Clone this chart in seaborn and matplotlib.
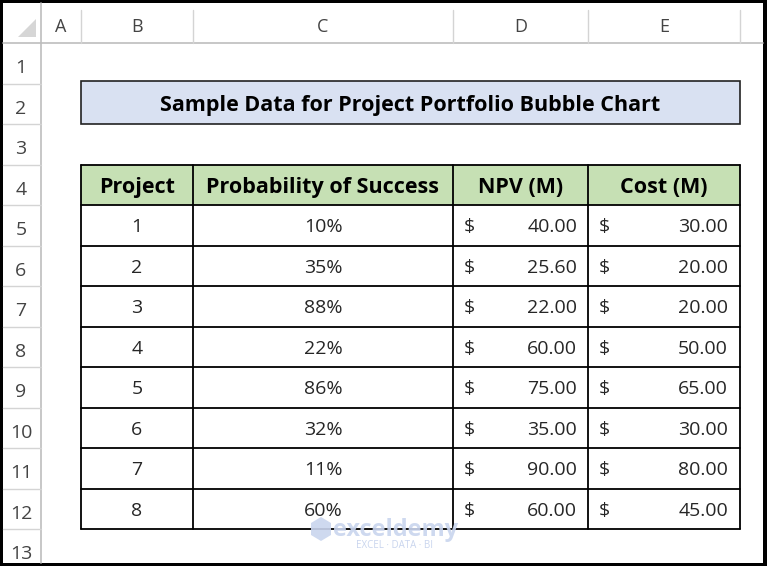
import matplotlib
matplotlib.use("Agg")
import matplotlib.pyplot as plt
from matplotlib.patches import Rectangle, Polygon
import seaborn as sns

# sheet content
title = "Sample Data for Project Portfolio Bubble Chart"
headers = ["Project", "Probability of Success", "NPV (M)", "Cost (M)"]
projects = [1, 2, 3, 4, 5, 6, 7, 8]
prob_success = [10, 35, 88, 22, 86, 32, 11, 60]
npv = [40.00, 25.60, 22.00, 60.00, 75.00, 35.00, 90.00, 60.00]
cost = [30.00, 20.00, 20.00, 50.00, 65.00, 30.00, 80.00, 45.00]
col_letters = ["A", "B", "C", "D", "E"]
row_numbers = list(range(1, 14))

sns.set_theme(style="white")
plt.rcParams['font.family'] = ['Open Sans', 'DejaVu Sans']

W, H = 767, 566
fig = plt.figure(figsize=(W / 100, H / 100), dpi=100, facecolor="black")
ax = fig.add_axes([0, 0, 1, 1])
ax.set_xlim(0, W)
ax.set_ylim(H, 0)
ax.axis("off")

# sheet geometry (pixels)
col_edges = [41, 81, 193, 453, 588, 740]
hdr_h = 43
row_h = 40.5
def row_top(r):
    return hdr_h + row_h * (r - 1)

# white sheet inside the black frame
ax.add_patch(Rectangle((3, 3), 760, 560, facecolor="white", edgecolor="none", zorder=0))

grid_c = "#d4d4d4"
txt_hdr = "#444444"
body_fs = 14

# column header strip
ax.plot([3, 763], [hdr_h, hdr_h], color="#bdbdbd", lw=1.2, zorder=1)
ax.plot([41, 41], [3, 563], color="#bdbdbd", lw=1.2, zorder=1)
for x in col_edges[1:]:
    ax.plot([x, x], [10, hdr_h], color=grid_c, lw=1, zorder=1)
for i, c in enumerate(col_letters):
    xc = (col_edges[i] + col_edges[i + 1]) / 2
    ax.text(xc, 27, c, ha="center", va="center", fontsize=13, color=txt_hdr)
ax.add_patch(Polygon([[18, 37], [36, 37], [36, 19]], closed=True,
                     facecolor="#d6d6d6", edgecolor="none", zorder=1))

# row header strip
for r in row_numbers:
    y0 = row_top(r)
    ax.plot([3, 41], [y0 + row_h, y0 + row_h], color=grid_c, lw=1, zorder=1)
    ax.text(21, y0 + row_h / 2 + 5, str(r), ha="center", va="center",
            fontsize=14, color=txt_hdr)

# title box (row 2, B:E)
tx0, tx1 = col_edges[1], col_edges[5]
ty0, ty1 = 81, 124
ax.add_patch(Rectangle((tx0, ty0), tx1 - tx0, ty1 - ty0, facecolor="#d9e1f2",
                       edgecolor="#222222", lw=1.2, zorder=2))
ax.text((tx0 + tx1) / 2, (ty0 + ty1) / 2 + 3, title, ha="center", va="center",
        fontsize=15.5, fontweight="bold", color="black", zorder=3)

# table header row 4
y_hdr = row_top(4)
ax.add_patch(Rectangle((col_edges[1], y_hdr), col_edges[5] - col_edges[1], row_h,
                       facecolor="#c6e0b4", edgecolor="none", zorder=2))
for j, h in enumerate(headers):
    xc = (col_edges[j + 1] + col_edges[j + 2]) / 2
    ax.text(xc, y_hdr + row_h / 2 + 3, h, ha="center", va="center",
            fontsize=15.5, fontweight="bold", color="black", zorder=3)

# table body rows 5-12
for i, p in enumerate(projects):
    yc = row_top(5 + i) + row_h / 2 + 2
    ax.text((col_edges[1] + col_edges[2]) / 2, yc, str(p), ha="center",
            va="center", fontsize=body_fs, zorder=3)
    ax.text((col_edges[2] + col_edges[3]) / 2, yc, f"{prob_success[i]}%",
            ha="center", va="center", fontsize=body_fs, zorder=3)
    ax.text(col_edges[3] + 11, yc, "$", ha="left", va="center", fontsize=body_fs, zorder=3)
    ax.text(col_edges[4] - 11, yc, f"{npv[i]:.2f}", ha="right", va="center",
            fontsize=body_fs, zorder=3)
    ax.text(col_edges[4] + 11, yc, "$", ha="left", va="center", fontsize=body_fs, zorder=3)
    ax.text(col_edges[5] - 12, yc, f"{cost[i]:.2f}", ha="right", va="center",
            fontsize=body_fs, zorder=3)

# table borders
t_top, t_bot = row_top(4), row_top(13)
for x in col_edges[1:]:
    ax.plot([x, x], [t_top, t_bot], color="black", lw=1.3, zorder=4)
for r in range(4, 14):
    y = row_top(r)
    ax.plot([col_edges[1], col_edges[5]], [y, y], color="black", lw=1.3, zorder=4)

# watermark
ax.text(333, 530, "exceldemy", ha="left", va="center", fontsize=17,
        fontweight="bold", color="#c9d5ee", alpha=0.9, zorder=5)
ax.text(394, 546, "EXCEL · DATA · BI", ha="center", va="center", fontsize=7,
        color="#c9d5ee", zorder=5)
ax.add_patch(Polygon([[311, 523], [321, 517], [331, 523], [331, 535], [321, 541], [311, 535]],
                     closed=True, facecolor="#c9d5ee", edgecolor="none", alpha=0.9, zorder=5))

fig.savefig("out.png", dpi=100, facecolor="black")
